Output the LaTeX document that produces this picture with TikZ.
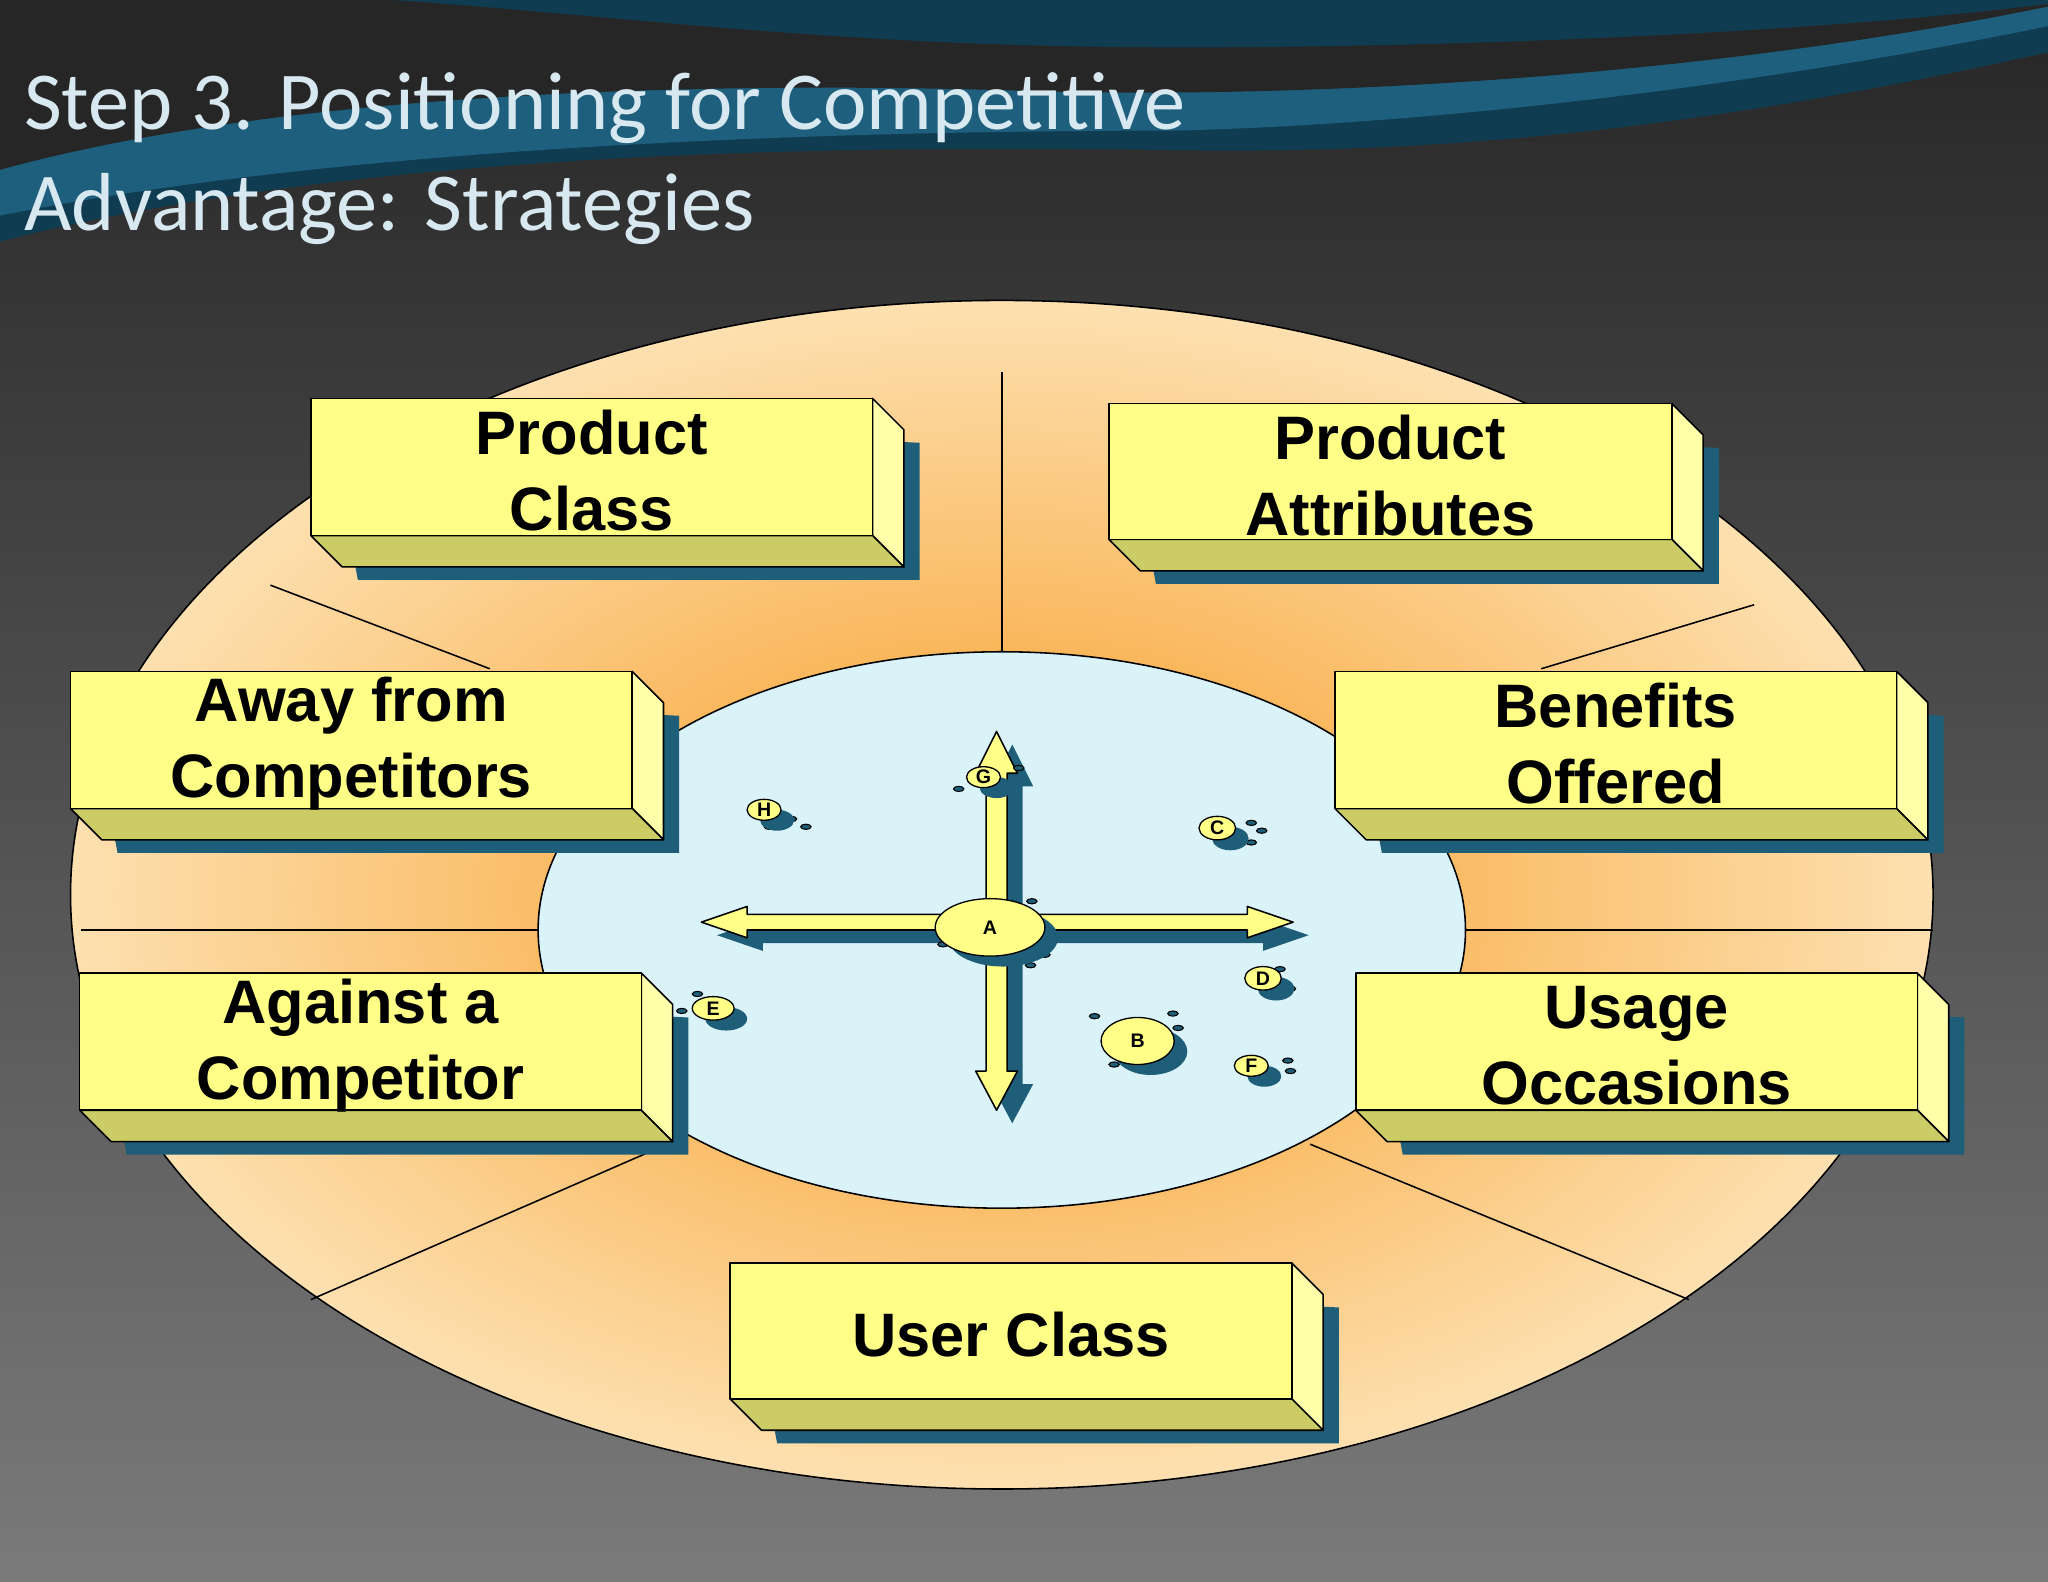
\documentclass[tikz,border=0pt]{standalone}
\usepackage{fontspec}
\setmainfont{Liberation Sans}
\newfontfamily\titlefont{Carlito}
\definecolor{bgtop}{HTML}{262626}
\definecolor{bgbot}{HTML}{7a7a7a}
\definecolor{teal1}{HTML}{1d5f7c}
\definecolor{teal2}{HTML}{103c52}
\definecolor{orin}{HTML}{F79A20}
\definecolor{orout}{HTML}{FDE0B0}
\definecolor{cyanin}{HTML}{DAF3F9}
\definecolor{yfront}{HTML}{FFFF88}
\definecolor{yside}{HTML}{FFFFAA}
\definecolor{ybot}{HTML}{CCCC66}
\definecolor{shad}{HTML}{1E5E78}
\definecolor{titlec}{HTML}{D8E8F0}
\tikzset{
  boxtext/.style={font=\bfseries\fontsize{47}{58}\selectfont, align=center, text=black},
  divline/.style={draw=black, line width=1.2pt},
  edge/.style={draw=black, line width=1.2pt, line join=round},
  lbl/.style={font=\bfseries\fontsize{15}{15}\selectfont},
}
\newcommand{\bevbox}[6]{% name x1 y1 x2 y2 text
  \fill[shad] (#2+12,#3+12) -- (#4+24+12,#3+24+10) -- (#4+24+12,#5+24+10) -- (#2+24+12,#5+24+10) -- cycle;
  \filldraw[edge,fill=yside] (#4,#3) -- (#4+24,#3+24) -- (#4+24,#5+24) -- (#4,#5) -- cycle;
  \filldraw[edge,fill=ybot] (#2,#5) -- (#4,#5) -- (#4+24,#5+24) -- (#2+24,#5+24) -- cycle;
  \filldraw[edge,fill=yfront] (#2,#3) rectangle (#4,#5);
  \node[boxtext] (#1) at ({(#2+#4)/2},{(#3+#5)/2+3}) {#6};
}
\newcommand{\lett}[5]{% name x y rx ry
  \fill[shad] (#2+10,#3+8) ellipse ({#4} and {#5});
  \filldraw[edge,line width=1pt,fill=yfront] (#2,#3) ellipse ({#4} and {#5});
}
\begin{document}
\begin{tikzpicture}[x=1pt,y=-1pt]
\useasboundingbox (0,0) rectangle (1568,1211);
\shade[top color=bgtop, bottom color=bgbot] (0,0) rectangle (1568,1211);
% wave
\fill[teal2] (0,0) -- (1568,0) -- (1568,40) .. controls (1300,100) and (1100,118) .. (900,115) .. controls (600,110) and (250,120) .. (0,185) -- cycle;
\fill[teal1] (0,0) -- (1568,0) -- (1568,20) .. controls (1350,65) and (1100,95) .. (900,100) .. controls (600,100) and (250,115) .. (0,165) -- cycle;
\fill[bgtop] (0,0) -- (1568,0) -- (1568,5) .. controls (1300,60) and (1000,75) .. (800,70) .. controls (500,60) and (200,75) .. (0,130) -- cycle;
\fill[teal2] (300,0) -- (1568,0) -- (1568,3) .. controls (1350,30) and (1000,40) .. (800,35) .. controls (600,30) and (450,10) .. (300,0) -- cycle;
\node[anchor=north west, align=left, text=titlec, font=\titlefont\fontsize{63}{77}\selectfont] (title) at (15,52) {Step 3. Positioning for Competitive\\Advantage: Strategies};
% ellipses
\shade[inner color=orin, outer color=orout, draw=black, line width=1.2pt] (767,685) ellipse (713 and 455);
\draw[divline] (767,285) -- (767,499);
\draw[divline] (207,448) -- (375,512);
\draw[divline] (1343,463) -- (1180,512);
\draw[divline] (62,712) -- (412,712);
\draw[divline] (1122,712) -- (1480,712);
\draw[divline] (238,995) -- (520,872);
\draw[divline] (1293,995) -- (1003,876);
\filldraw[fill=cyanin, draw=black, line width=1.2pt] (767,712) ellipse (355 and 213);
% arrows
\begin{scope}[shift={(12,10)}]
\fill[shad] (537,706) -- (572,694) -- (572,700) -- (955,700) -- (955,694) -- (990,706) -- (955,718) -- (955,712) -- (572,712) -- (572,718) -- cycle;
\fill[shad] (763,560) -- (779,592) -- (771,592) -- (771,820) -- (779,820) -- (763,850) -- (747,820) -- (755,820) -- (755,592) -- (747,592) -- cycle;
\end{scope}
\filldraw[edge,fill=yfront] (537,706) -- (572,694) -- (572,700) -- (955,700) -- (955,694) -- (990,706) -- (955,718) -- (955,712) -- (572,712) -- (572,718) -- cycle;
\filldraw[edge,fill=yfront] (763,560) -- (779,592) -- (771,592) -- (771,820) -- (779,820) -- (763,850) -- (747,820) -- (755,820) -- (755,592) -- (747,592) -- cycle;
% dots
\foreach \x/\y in {606/627, 617/633, 589/633, 734/604, 780/588, 958/630, 966/636, 958/645, 988/757, 980/742, 986/812, 988/820, 838/778, 898/776, 902/787, 853/815, 783/730, 800/731, 789/739, 790/690, 722/723, 534/761, 522/774}
  \draw[black, line width=0.8pt, fill=shad] (\x,\y) ellipse (4 and 2);
% letters
\lett{a}{758}{710}{42}{22}
\node[lbl] (A) at (758,710) {A};
\lett{b}{871}{797}{28}{18}
\node[lbl] (B) at (871,797) {B};
\lett{g}{753}{595}{13}{8}
\node[lbl] (G) at (753,595) {G};
\lett{h}{585}{620}{13}{8}
\node[lbl] (H) at (585,620) {H};
\lett{c}{932}{634}{14}{9}
\node[lbl] (C) at (932,634) {C};
\lett{d}{967}{749}{14}{9}
\node[lbl] (D) at (967,749) {D};
\lett{e}{546}{772}{16}{9}
\node[lbl] (E) at (546,772) {E};
\lett{f}{958}{816}{13}{8}
\node[lbl] (F) at (958,816) {F};
% boxes
\bevbox{pc}{238}{305}{668}{410}{Product\\Class}
\bevbox{pa}{849}{309}{1280}{413}{Product\\Attributes}
\bevbox{af}{54}{514}{484}{619}{Away from\\Competitors}
\bevbox{bo}{1022}{514}{1452}{619}{Benefits\\Offered}
\bevbox{ac}{61}{745}{491}{850}{Against a\\Competitor}
\bevbox{uo}{1038}{745}{1468}{850}{Usage\\Occasions}
\bevbox{uc}{559}{967}{989}{1071}{User Class}
\end{tikzpicture}
\end{document}
